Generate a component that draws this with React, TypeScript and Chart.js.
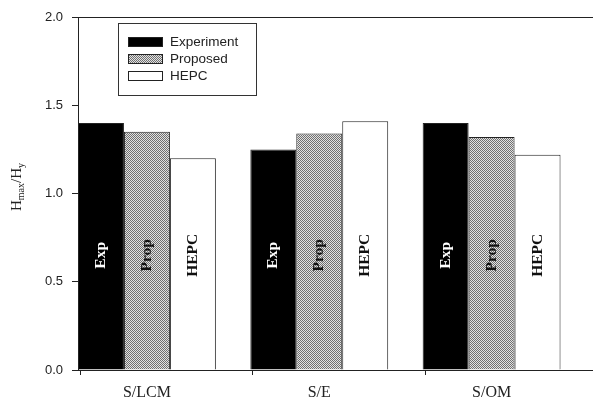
import React, { useEffect, useRef } from 'react';
import { Chart, registerables } from 'chart.js';

Chart.register(...registerables);

const categories = ['S/LCM', 'S/E', 'S/OM'];
const seriesNames = ['Experiment', 'Proposed', 'HEPC'];
const barTags = ['Exp', 'Prop', 'HEPC'];
const experiment = [1.40, 1.25, 1.40];
const proposed = [1.35, 1.34, 1.32];
const hepc = [1.20, 1.41, 1.22];
const yTicks = [0, 0.5, 1.0, 1.5, 2.0];

const GROUP = 0.8; // categoryPercentage
const TAG_Y = 0.65; // y value where the rotated tags sit

export default function App() {
  const ref = useRef<HTMLCanvasElement>(null);

  useEffect(() => {
    const canvas = ref.current!;
    const pc = document.createElement('canvas');
    pc.width = 2;
    pc.height = 2;
    const pctx = pc.getContext('2d')!;
    pctx.fillStyle = '#e2e2e2';
    pctx.fillRect(0, 0, 2, 2);
    pctx.fillStyle = '#707070';
    pctx.fillRect(0, 0, 1, 1);
    pctx.fillRect(1, 1, 1, 1);
    const pattern = canvas.getContext('2d')!.createPattern(pc, 'repeat')!;

    const fills = ['#000000', pattern, '#ffffff'];
    const series = [experiment, proposed, hepc];

    const half = GROUP / 2;
    const edges = [...categories.map((_, i) => i - half), categories.length - half];

    const framePlugin = {
      id: 'frame',
      afterDraw(chart: any) {
        const { ctx, chartArea } = chart;
        const xs = chart.scales.x;
        ctx.save();
        ctx.strokeStyle = '#222';
        ctx.lineWidth = 1;
        ctx.beginPath();
        ctx.moveTo(chartArea.left - 3, chartArea.top + 0.5);
        ctx.lineTo(chartArea.right, chartArea.top + 0.5);
        edges.forEach((e) => {
          const px = Math.round(xs.getPixelForValue(e)) + 2.5;
          ctx.moveTo(px, chartArea.bottom);
          ctx.lineTo(px, chartArea.bottom + 5);
        });
        ctx.stroke();
        ctx.restore();
      },
    };

    const legendPlugin = {
      id: 'boxLegend',
      afterDraw(chart: any) {
        const { ctx, chartArea } = chart;
        const bx = chartArea.left + 40;
        const by = chartArea.top + 6;
        const bw = 138;
        const bh = 72;
        ctx.save();
        ctx.fillStyle = '#fff';
        ctx.fillRect(bx, by, bw, bh);
        ctx.strokeStyle = '#333';
        ctx.lineWidth = 1;
        ctx.strokeRect(bx + 0.5, by + 0.5, bw, bh);
        chart.data.datasets.forEach((ds: any, i: number) => {
          const sy = by + 14 + i * 17;
          ctx.fillStyle = ds.backgroundColor;
          ctx.fillRect(bx + 10, sy, 34, 9);
          ctx.strokeStyle = '#222';
          ctx.strokeRect(bx + 10.5, sy + 0.5, 34, 9);
          ctx.fillStyle = '#222';
          ctx.font = '13.5px "Liberation Sans", Arial, sans-serif';
          ctx.textBaseline = 'middle';
          ctx.textAlign = 'left';
          ctx.fillText(ds.label, bx + 52, sy + 5);
        });
        ctx.restore();
      },
    };

    const tagPlugin = {
      id: 'barTags',
      afterDatasetsDraw(chart: any) {
        const { ctx } = chart;
        const yScale = chart.scales.y;
        chart.data.datasets.forEach((_ds: any, i: number) => {
          const meta = chart.getDatasetMeta(i);
          meta.data.forEach((bar: any) => {
            ctx.save();
            ctx.translate(bar.x, yScale.getPixelForValue(TAG_Y));
            ctx.rotate(-Math.PI / 2);
            ctx.font = 'bold 15.5px "Liberation Serif", "Times New Roman", serif';
            ctx.fillStyle = i === 0 ? '#ffffff' : '#111';
            ctx.textAlign = 'center';
            ctx.textBaseline = 'middle';
            ctx.fillText(barTags[i], 0, 0);
            ctx.restore();
          });
        });
      },
    };

    const yTitlePlugin = {
      id: 'yTitle',
      afterDraw(chart: any) {
        const { ctx, chartArea } = chart;
        const parts = [
          { t: 'H', size: 15, dy: 0 },
          { t: 'max', size: 10, dy: 4 },
          { t: '/H', size: 15, dy: 0 },
          { t: 'y', size: 10, dy: 4 },
        ];
        ctx.save();
        let total = 0;
        parts.forEach((p) => {
          ctx.font = `${p.size}px "Liberation Serif", "Times New Roman", serif`;
          total += ctx.measureText(p.t).width;
        });
        const cx = chartArea.left - 61;
        const cy = 187;
        ctx.translate(cx, cy);
        ctx.rotate(-Math.PI / 2);
        ctx.fillStyle = '#222';
        ctx.textBaseline = 'middle';
        ctx.textAlign = 'left';
        let x = -total / 2;
        parts.forEach((p) => {
          ctx.font = `${p.size}px "Liberation Serif", "Times New Roman", serif`;
          ctx.fillText(p.t, x, p.dy);
          x += ctx.measureText(p.t).width;
        });
        ctx.restore();
      },
    };

    const chart = new Chart(canvas, {
      type: 'bar',
      data: {
        datasets: seriesNames.map((name, i) => ({
          label: name,
          data: series[i].map((v, j) => ({ x: j, y: v })),
          backgroundColor: fills[i] as any,
          borderColor: '#222',
          borderWidth: 1,
          categoryPercentage: GROUP,
          barPercentage: 1,
        })),
      },
      options: {
        responsive: false,
        animation: false,
        devicePixelRatio: 1,
        layout: { padding: { top: 17, right: 0, bottom: 0, left: 0 } },
        plugins: {
          legend: { display: false },
          tooltip: { enabled: false },
        },
        scales: {
          x: {
            type: 'linear',
            offset: false,
            min: edges[0],
            max: edges[edges.length - 1],
            afterBuildTicks: (scale: any) => {
              scale.ticks = categories.map((_, i) => ({ value: i }));
            },
            afterFit: (scale: any) => {
              scale.height = 29;
            },
            ticks: {
              padding: 8,
              color: '#222',
              font: { family: '"Liberation Serif", "Times New Roman", serif', size: 16 },
              maxRotation: 0,
              autoSkip: false,
              callback: (v: any) => categories[v] ?? '',
            },
            grid: {
              offset: false,
              drawOnChartArea: false,
              drawTicks: true,
              tickLength: 5,
              tickColor: 'rgba(0,0,0,0)',
              color: 'rgba(0,0,0,0)',
            },
            border: { display: true, color: '#222', width: 1 },
          },
          y: {
            min: 0,
            max: 2,
            afterBuildTicks: (scale: any) => {
              scale.ticks = yTicks.map((v) => ({ value: v }));
            },
            afterFit: (scale: any) => {
              scale.width = 78;
            },
            ticks: {
              padding: 9,
              color: '#222',
              font: { family: '"Liberation Sans", Arial, sans-serif', size: 13 },
              callback: (v: any) => Number(v).toFixed(1),
            },
            grid: {
              drawOnChartArea: false,
              drawTicks: true,
              tickLength: 6,
              tickColor: '#222',
            },
            border: { display: true, color: '#222', width: 1 },
          },
        },
      },
      plugins: [framePlugin, tagPlugin, legendPlugin, yTitlePlugin],
    });

    return () => chart.destroy();
  }, []);

  return (
    <div
      style={{
        position: 'fixed',
        left: 0,
        top: 0,
        width: 593,
        height: 399,
        overflow: 'hidden',
        background: '#fff',
      }}
    >
      <canvas ref={ref} width={595} height={399} style={{ display: 'block', width: 595, height: 399 }} />
    </div>
  );
}
